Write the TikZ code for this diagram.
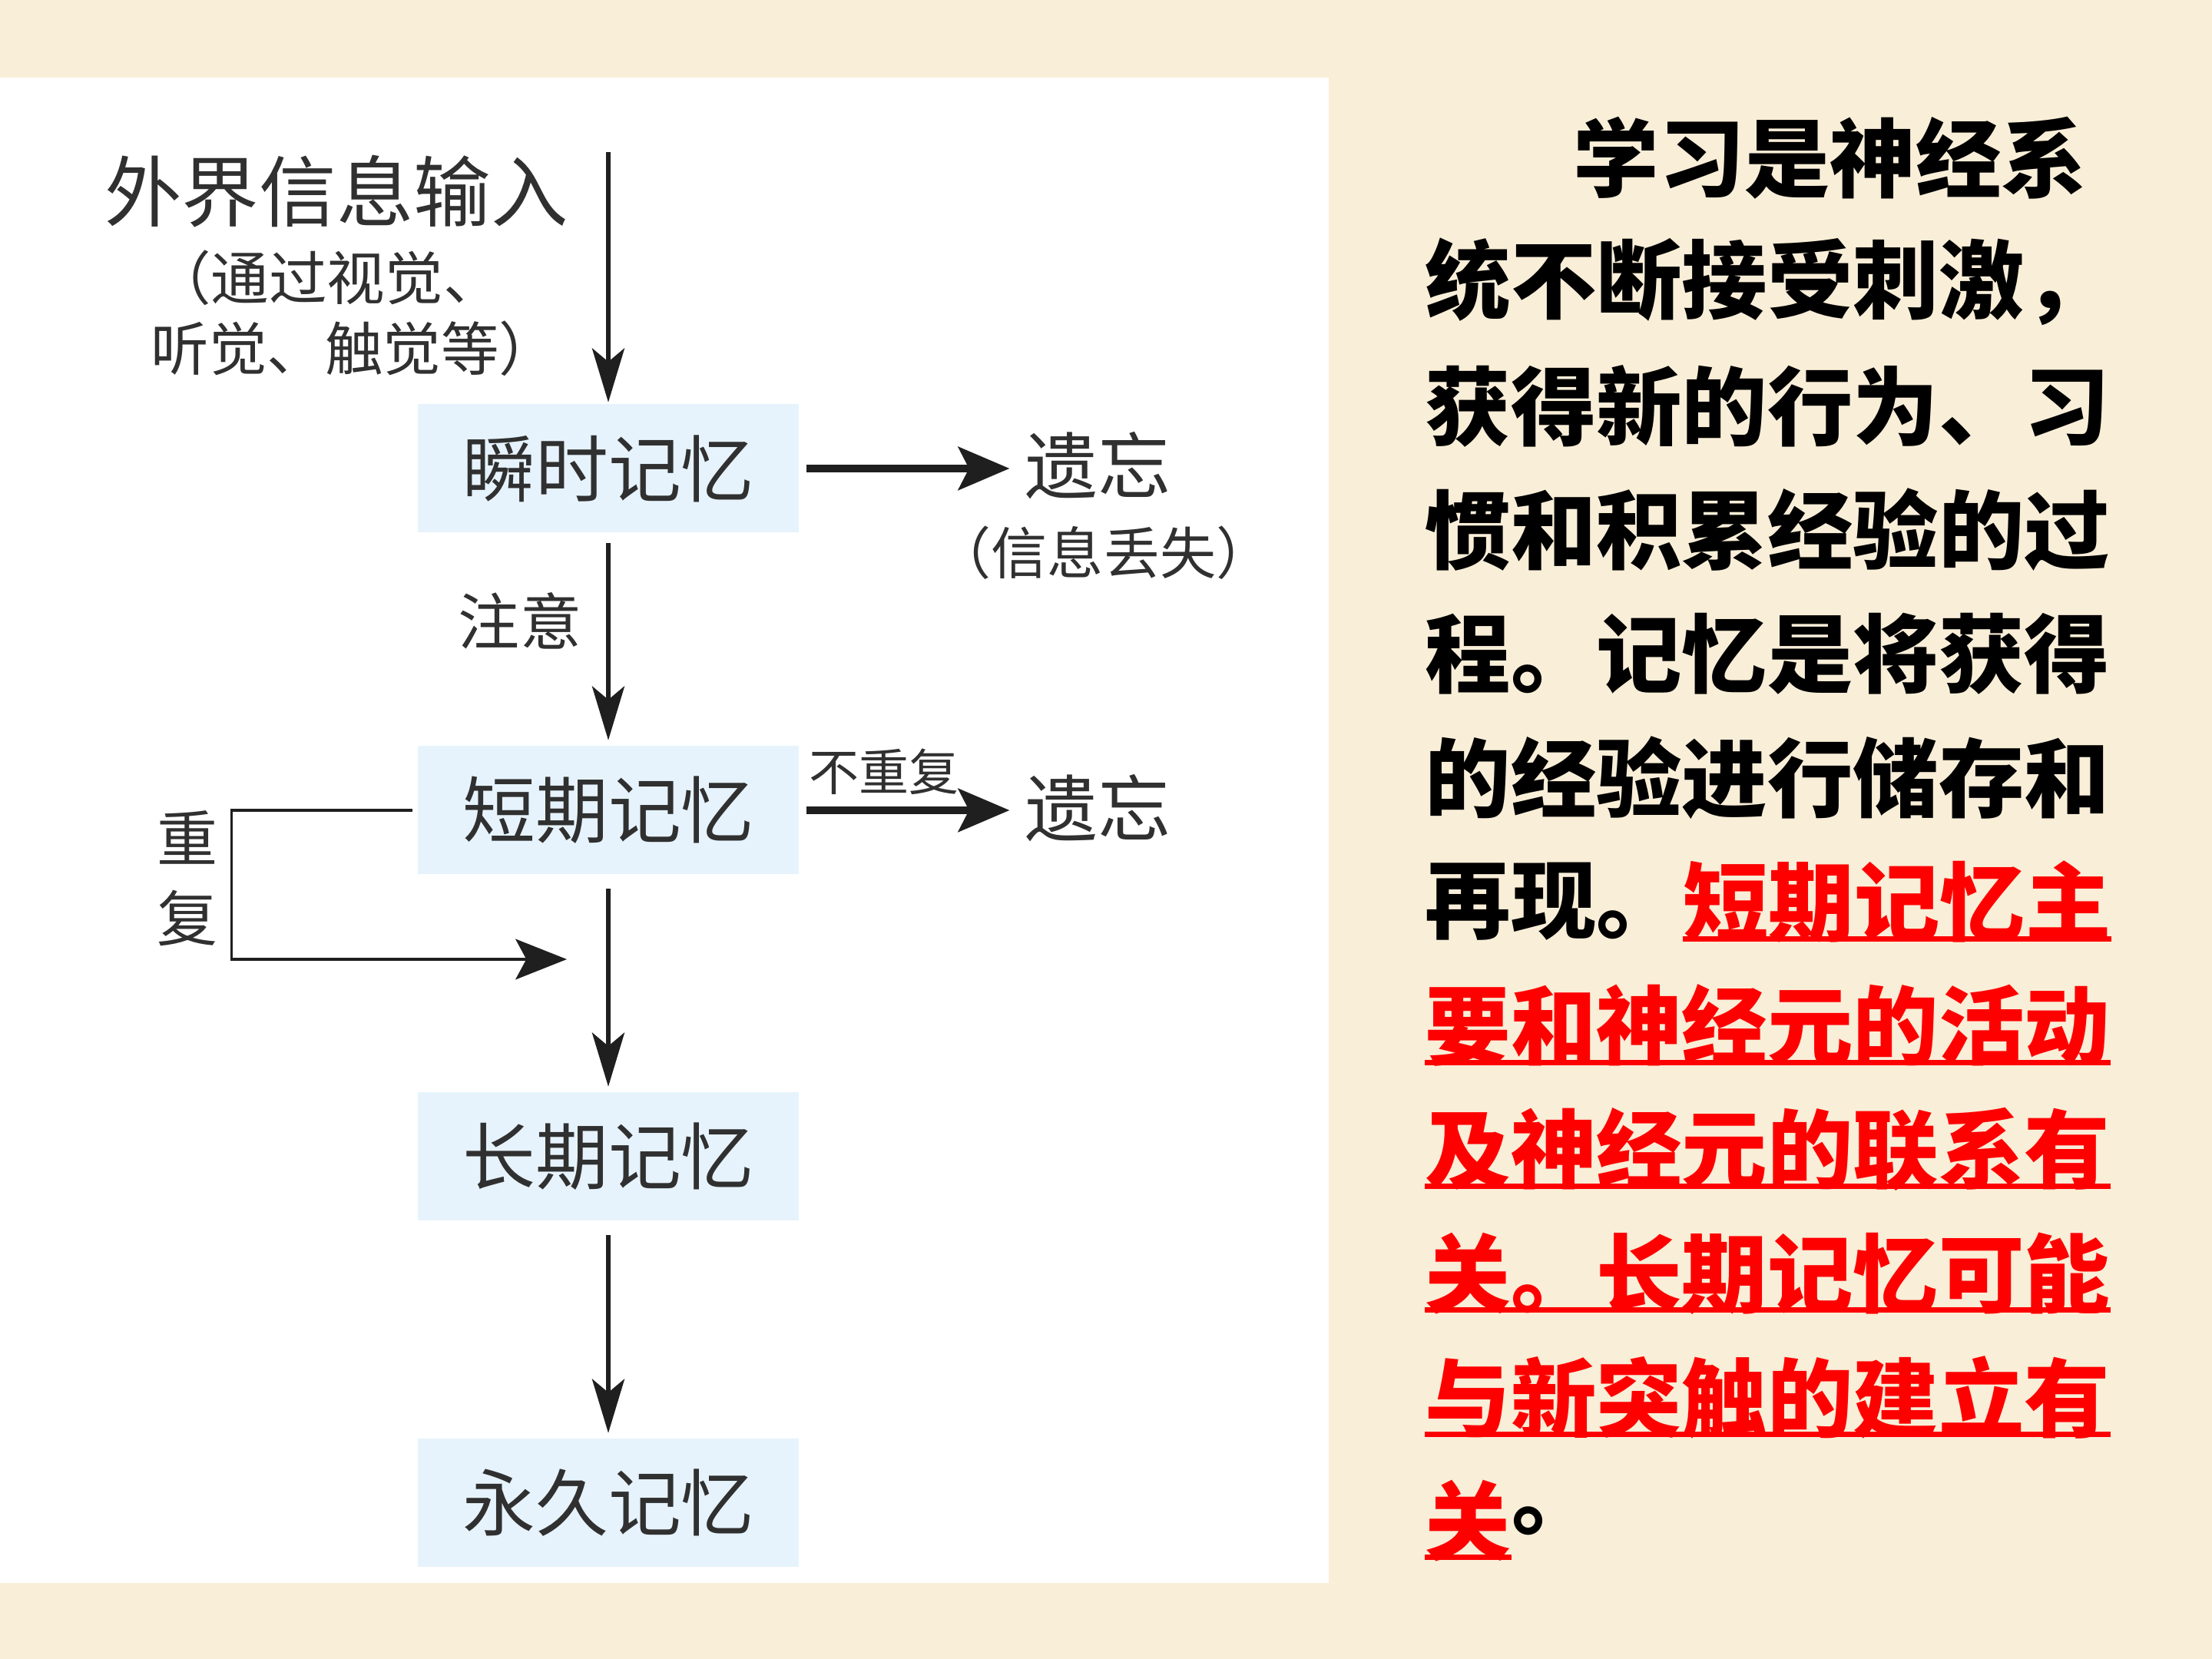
\documentclass[tikz,border=0pt]{standalone}
\usepackage{fontspec}
\setmainfont{Noto Sans CJK SC}
\usetikzlibrary{arrows.meta}
\definecolor{Paper}{RGB}{249,238,216}
\definecolor{BoxBlue}{RGB}{230,243,252}
\definecolor{Ink}{RGB}{48,48,48}
\definecolor{Mark}{RGB}{255,0,0}
\tikzset{
  membox/.style={fill=BoxBlue, minimum width=4.96cm, minimum height=1.67cm, inner sep=0pt, text=Ink, font=\fontsize{27}{27}\selectfont},
  lbl/.style={inner sep=0pt, text=Ink},
  flow/.style={line width=1.6pt, draw=black!88, -{Stealth[length=20pt,width=12pt,inset=5pt]}},
  fwd/.style={line width=2.6pt, draw=black!88, -{Stealth[length=19pt,width=16pt,inset=4pt]}},
  back/.style={line width=1pt, draw=black!88, -{Stealth[length=19pt,width=15pt,inset=4pt]}},
  para/.style={anchor=west, inner sep=0pt, font=\fontsize{31.7}{31.7}\selectfont\bfseries},
  ul/.style={Mark, line width=2pt}
}
\begin{document}
\begin{tikzpicture}[x=1cm,y=1cm]
  \fill[Paper] (0,0) rectangle (28.8,21.6);
  \fill[white] (0,0.99) rectangle (17.30,20.59);
  % memory stages
  \node[lbl,font=\fontsize{28.6}{28.6}\selectfont] (in1) at (4.38,19.11) {外界信息输入};
  \node[lbl,font=\fontsize{21.5}{21.5}\selectfont] (in2) at (4.26,17.98) {（通过视觉、};
  \node[lbl,font=\fontsize{21.5}{21.5}\selectfont] (in3) at (4.61,17.06) {听觉、触觉等）};
  \coordinate (src) at (7.92,19.62);
  \node[membox] (b1) at (7.92,15.50) {瞬时记忆};
  \node[membox] (b2) at (7.92,11.05) {短期记忆};
  \node[membox] (b3) at (7.92,6.54) {长期记忆};
  \node[membox] (b4) at (7.92,2.03) {永久记忆};
  \node[lbl,font=\fontsize{27}{27}\selectfont] (f1) at (14.29,15.54) {遗忘};
  \node[lbl,font=\fontsize{20.8}{20.8}\selectfont] (lost) at (14.37,14.40) {（信息丢失）};
  \node[lbl,font=\fontsize{27}{27}\selectfont] (f2) at (14.29,11.08) {遗忘};
  \node[lbl,font=\fontsize{18.5}{18.5}\selectfont] (norep) at (11.51,11.55) {不重复};
  \node[lbl,font=\fontsize{22.8}{22.8}\selectfont] (attn) at (6.77,13.52) {注意};
  \node[lbl,align=center,font=\fontsize{22.5}{29.6}\selectfont] (rep) at (2.44,10.16) {重\\复};
  \coordinate (repend) at (7.38,9.11);
  \draw[flow,shorten >=0.02cm] (src) -- (b1.north);
  \draw[flow,shorten <=0.13cm,shorten >=0.07cm] (b1.south) -- (b2.north);
  \draw[flow,shorten <=0.18cm,shorten >=0.07cm] (b2.south) -- (b3.north);
  \draw[flow,shorten <=0.18cm,shorten >=0.07cm] (b3.south) -- (b4.north);
  \draw[fwd,shorten <=0.09cm,shorten >=0.19cm] (b1.east) -- (b1.east -| f1.west);
  \draw[fwd,shorten <=0.09cm,shorten >=0.19cm] (b2.east) -- (b2.east -| f2.west);
  \draw[back] ([xshift=-0.06cm]b2.west) -- ++(-2.36,0) |- (repend);
  % text on the right
  \node[para] (t1) at (20.48,19.54) {学习是神经系};
  \foreach \n/\yy/\txt in {2/17.93/统不断接受刺激，,3/16.31/获得新的行为、习,4/14.70/惯和积累经验的过,5/13.09/程。记忆是将获得,6/11.47/的经验进行储存和}
    \node[para] (t\n) at (18.55,\yy) {\txt};
  \node[para] (t7) at (18.55,9.86) {再现。};
  \node[para,text=Mark] (r7) at (t7.east) {短期记忆主};
  \foreach \n/\yy/\txt in {8/8.25/要和神经元的活动,9/6.64/及神经元的联系有,10/5.02/关。长期记忆可能,11/3.41/与新突触的建立有}
    \node[para,text=Mark] (r\n) at (18.55,\yy) {\txt};
  \node[para,text=Mark] (r12) at (18.55,1.80) {关};
  \node[para] (t12) at (r12.east) {。};
  \foreach \n in {7,...,12}
    \draw[ul] ([yshift=0.06cm]r\n.south west) -- ([yshift=0.06cm]r\n.south east);
\end{tikzpicture}
\end{document}
